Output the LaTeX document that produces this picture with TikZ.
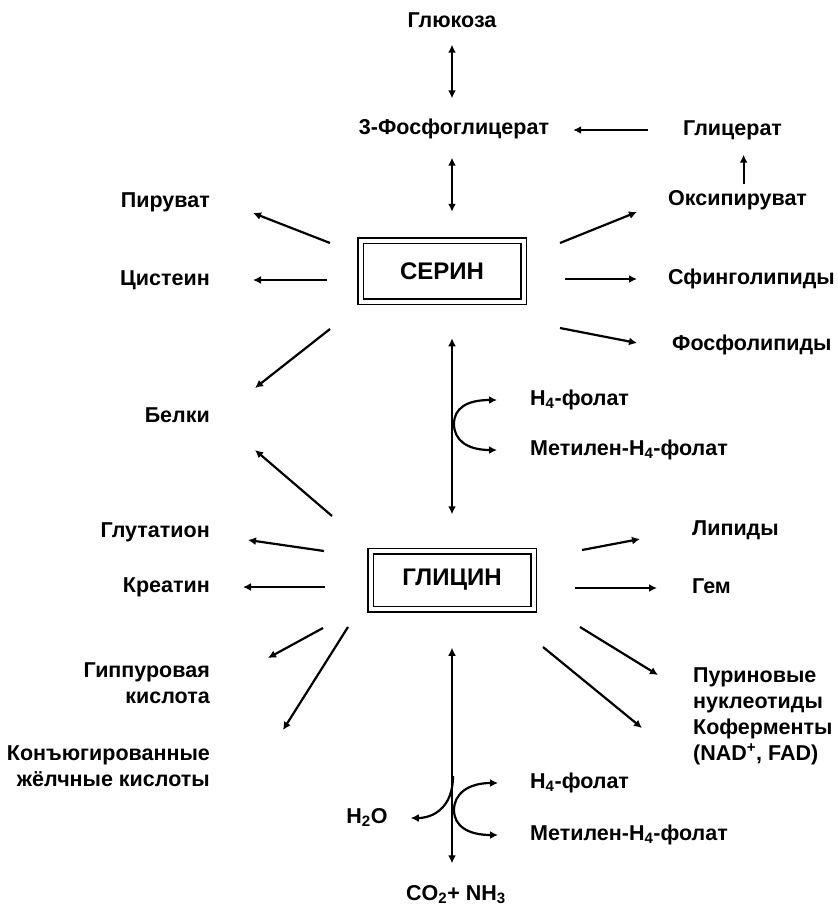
\documentclass[tikz,border=0pt]{standalone}
\usepackage{fontspec}
\setmainfont{Liberation Sans}
\usetikzlibrary{arrows.meta}
\begin{document}
\begin{tikzpicture}[x=1pt,y=-1pt,
  >={Latex[length=8pt,width=8pt]},
  arr/.style={line width=2.2pt},
  lbl/.style={font=\fontsize{21.5}{26}\selectfont\bfseries, inner sep=0pt, text height=15pt, text depth=4pt},
  lbls/.style={font=\fontsize{21.5}{26}\selectfont\bfseries, inner sep=0pt},
  box/.style={draw, double, double distance=4pt, line width=1.5pt, minimum width=163pt, minimum height=61pt, inner sep=0pt, font=\fontsize{24}{28}\selectfont\bfseries}]
\useasboundingbox (0,0) rectangle (838,911);
% upper part
\node[lbl] (glu) at (452,22) {Глюкоза};
\node[lbl] (pgk) at (454,129) {3-Фосфоглицерат};
\node[lbl, anchor=west] (glc) at (683,130) {Глицерат};
\node[lbl, anchor=west] (oxp) at (668,200) {Оксипируват};
\node[box] (ser) at (442,271) {СЕРИН};
\node[lbl, anchor=east] (pir) at (210,202) {Пируват};
\node[lbl, anchor=east] (cys) at (210,280) {Цистеин};
\node[lbl, anchor=east] (prot) at (210,417) {Белки};
\node[lbl, anchor=west] (sph) at (668,279) {Сфинголипиды};
\node[lbl, anchor=west] (phl) at (672,345) {Фосфолипиды};
\node[lbl, anchor=west] (fol1) at (530,400) {H\textsubscript{4}-фолат};
\node[lbl, anchor=west] (mfol1) at (530,450) {Метилен-H\textsubscript{4}-фолат};
% lower part
\node[box, minimum height=58pt] (gly) at (452,580) {ГЛИЦИН};
\node[lbl, anchor=east] (gsh) at (210,532) {Глутатион};
\node[lbl, anchor=east] (crt) at (210,587) {Креатин};
\node[lbls, anchor=east, align=right] (hip) at (210,683) {Гиппуровая\\кислота};
\node[lbls, anchor=east, align=right] (bile) at (210,766) {Конъюгированные\\жёлчные кислоты};
\node[lbl, anchor=west] (lip) at (692,530) {Липиды};
\node[lbl, anchor=west] (hem) at (692,588) {Гем};
\node[lbls, anchor=west, align=left] (pur) at (693,716) {Пуриновые\\нуклеотиды\\Коферменты\\(NAD\textsuperscript{+}, FAD)};
\node[lbl, anchor=west] (fol2) at (530,783) {H\textsubscript{4}-фолат};
\node[lbl, anchor=west] (mfol2) at (530,835) {Метилен-H\textsubscript{4}-фолат};
\node[lbl] (h2o) at (367,818) {H\textsubscript{2}O};
\node[lbl] (co2) at (456,895) {CO\textsubscript{2}+ NH\textsubscript{3}};

% main axis
\draw[arr,<->,shorten <=13pt,shorten >=21pt] (glu.south) -- (glu.south |- pgk.north);
\draw[arr,<->,shorten <=19pt,shorten >=28pt] (pgk.south -| glu) -- (ser.north -| glu);
\draw[arr,<->,shorten <=36pt,shorten >=36pt] (ser.south -| gly) -- (gly.north);
\draw[arr,<->,shorten <=38pt,shorten >=22pt] (gly.south) -- (gly.south |- co2.north);
\draw[arr,->,shorten <=35pt,shorten >=24pt] (glc.west) -- (pgk.east |- glc.west);
\draw[arr,->,shorten <=6pt,shorten >=15pt] ([xshift=6pt]oxp.north) -- ([xshift=6pt]oxp.north |- glc.south);

% arrows round serine
\coordinate (sp1) at (330,243); \coordinate (tp1) at (253,213);
\coordinate (sp2) at (327,280); \coordinate (tp2) at (253,280);
\coordinate (sp3) at (330,329); \coordinate (tp3) at (255,388);
\coordinate (sp4) at (560,243); \coordinate (tp4) at (637,212);
\coordinate (sp5) at (565,279); \coordinate (tp5) at (637,279);
\coordinate (sp6) at (560,328); \coordinate (tp6) at (637,343);
\draw[arr,->] (sp1) -- (tp1);
\draw[arr,->] (sp2) -- (tp2);
\draw[arr,->] (sp3) -- (tp3);
\draw[arr,->] (sp4) -- (tp4);
\draw[arr,->] (sp5) -- (tp5);
\draw[arr,->] (sp6) -- (tp6);

% arrows round glycine
\coordinate (gp1) at (332,516); \coordinate (gt1) at (255,450);
\coordinate (gp2) at (324,551); \coordinate (gt2) at (248,540);
\coordinate (gp3) at (325,587); \coordinate (gt3) at (243,587);
\coordinate (gp4) at (323,628); \coordinate (gt4) at (268,658);
\coordinate (gp5) at (348,627); \coordinate (gt5) at (283,730);
\coordinate (gp6) at (582,550); \coordinate (gt6) at (640,539);
\coordinate (gp7) at (575,588); \coordinate (gt7) at (657,588);
\coordinate (gp8) at (580,627); \coordinate (gt8) at (658,675);
\coordinate (gp9) at (543,647); \coordinate (gt9) at (642,728);
\draw[arr,->] (gp1) -- (gt1);
\draw[arr,->] (gp2) -- (gt2);
\draw[arr,->] (gp3) -- (gt3);
\draw[arr,->] (gp4) -- (gt4);
\draw[arr,->] (gp5) -- (gt5);
\draw[arr,->] (gp6) -- (gt6);
\draw[arr,->] (gp7) -- (gt7);
\draw[arr,->] (gp8) -- (gt8);
\draw[arr,->] (gp9) -- (gt9);

% folate branches
\coordinate (j1) at (454,424);
\coordinate (j2) at (454,810);
\coordinate (j3) at (453,776);
\draw[arr,<->] ([xshift=-33pt]fol1.west) .. controls +(-30,0) and +(0,-16) .. (j1) .. controls +(0,16) and +(-30,0) .. ([xshift=-33pt]mfol1.west);
\draw[arr,<->] ([xshift=-32pt]fol2.west) .. controls +(-30,0) and +(0,-16) .. (j2) .. controls +(0,16) and +(-30,0) .. ([xshift=-32pt]mfol2.west);
\draw[arr,->] (j3) .. controls +(0,32) and +(22,0) .. ([xshift=23pt]h2o.east);
\end{tikzpicture}
\end{document}
